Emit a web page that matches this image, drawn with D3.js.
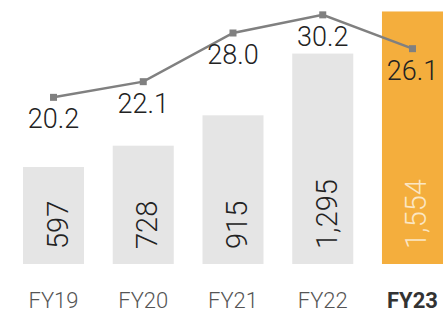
<!DOCTYPE html>
<html>
<head>
<meta charset="utf-8">
<script src="https://cdn.jsdelivr.net/npm/d3@7"></script>
<style>
  html, body { margin: 0; padding: 0; background: #fff; }
  svg { display: block; font-family: Roboto, "Helvetica Neue", Arial, sans-serif; }
</style>
</head>
<body>
<div id="chart"></div>
<script>
const years = ['FY19', 'FY20', 'FY21', 'FY22', 'FY23'];
const revenue = [597, 728, 915, 1295, 1554];
const margin = [20.2, 22.1, 28.0, 30.2, 26.1];
const highlight = 'FY23';

const width = 443;
const height = 314;
const base = 264;

const svg = d3.select('#chart')
  .append('svg')
  .attr('width', width)
  .attr('height', height);

const x = d3.scaleBand()
  .domain(years)
  .range([23, 443])
  .paddingInner(0.32)
  .paddingOuter(0);

const yBar = d3.scaleLinear()
  .domain([0, 1600])
  .range([base, 4]);

const yLine = d3.scaleLinear()
  .domain([0, 32])
  .range([base, 0]);

const fmt = d3.format(',');

// bars
const bars = svg.append('g').attr('class', 'bars')
  .selectAll('g')
  .data(years.map((d, i) => ({ year: d, value: revenue[i] })))
  .enter().append('g');

bars.append('rect')
  .attr('x', d => x(d.year))
  .attr('y', d => yBar(d.value))
  .attr('width', x.bandwidth())
  .attr('height', d => base - yBar(d.value))
  .attr('fill', d => d.year === highlight ? '#f4ae3d' : '#e5e5e5');

bars.append('text')
  .attr('transform', d => `translate(${x(d.year) + x.bandwidth() / 2 + 14},${base - 15}) rotate(-90)`)
  .attr('text-anchor', 'start')
  .attr('font-size', 29)
  .attr('font-weight', 300)
  .attr('fill', d => d.year === highlight ? '#fbe6c4' : '#222')
  .text(d => fmt(d.value));

// line
const pts = years.map((d, i) => ({ year: d, value: margin[i] }));
const cx = d => x(d.year) + x.bandwidth() / 2;

svg.append('path')
  .datum(pts)
  .attr('fill', 'none')
  .attr('stroke', '#808080')
  .attr('stroke-width', 2.5)
  .attr('d', d3.line().x(cx).y(d => yLine(d.value)));

svg.append('g')
  .selectAll('rect')
  .data(pts)
  .enter().append('rect')
  .attr('x', d => cx(d) - 3.5)
  .attr('y', d => yLine(d.value) - 3.5)
  .attr('width', 7)
  .attr('height', 7)
  .attr('fill', '#808080');

svg.append('g')
  .selectAll('text')
  .data(pts)
  .enter().append('text')
  .attr('x', cx)
  .attr('y', d => yLine(d.value) + 31)
  .attr('text-anchor', 'middle')
  .attr('font-size', 27)
  .attr('font-weight', 300)
  .attr('fill', '#222')
  .text(d => d.value.toFixed(1));

// x axis
const axis = svg.append('g')
  .attr('transform', `translate(0,${base})`)
  .call(d3.axisBottom(x).tickSize(0).tickPadding(28));

axis.select('.domain').remove();
axis.selectAll('text')
  .attr('font-family', 'Roboto, "Helvetica Neue", Arial, sans-serif')
  .attr('font-size', 22)
  .attr('font-weight', d => d === highlight ? 700 : 300)
  .attr('fill', d => d === highlight ? '#333' : '#555');
</script>
</body>
</html>
